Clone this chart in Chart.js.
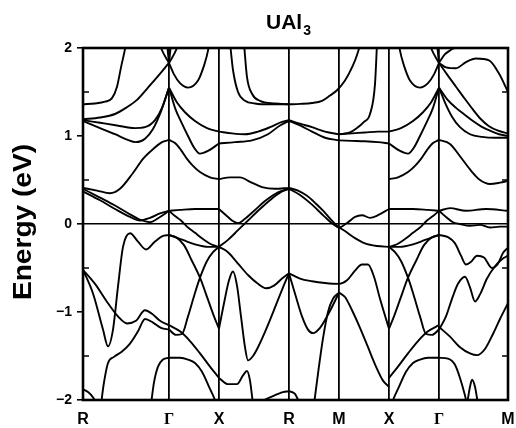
<!DOCTYPE html>
<html>
<head>
<meta charset="utf-8">
<title>UAl3 band structure</title>
<script src="https://cdn.jsdelivr.net/npm/chart.js@4.4.1/dist/chart.umd.min.js"></script>
<style>
  html, body { margin: 0; padding: 0; background: #fff; }
  canvas { display: block; }
</style>
</head>
<body>
<canvas id="bands" width="516" height="428"></canvas>
<script>
// symmetry points along the k-path (path length, arbitrary units)
const kLabels = ['R', 'Γ', 'X', 'R', 'M', 'X', 'Γ', 'M'];
const kNodes = [0, 86, 136, 206, 256, 306, 356, 425];
const eTicks = [-2, -1, 0, 1, 2];
const eMinor = [-1.5, -0.5, 0.5, 1.5];

// bands as [k, E(eV)] pairs
const bandsRG = [
  [[0,1.36],[12,1.37],[22,1.39],[29,1.43],[34,1.56],[38,1.78],[43,2.05],[46,2.3]],
  [[70,2.3],[78,2.0],[86,1.83]],
  [[82,2.3],[84,2.05],[86,1.83]],
  [[0,1.19],[17,1.21],[32,1.25],[43,1.32],[54,1.41],[65,1.55],[75,1.68],[86,1.83]],
  [[0,1.18],[17,1.15],[34,1.12],[52,1.09],[62,1.10],[72,1.18],[79,1.32],[86,1.55]],
  [[0,1.17],[17,1.09],[32,1.02],[44,0.96],[53,0.93],[62,0.97],[70,1.08],[78,1.28],[86,1.55]],
  [[0,0.41],[14,0.38],[27,0.35],[37,0.40],[50,0.58],[60,0.74],[70,0.85],[79,0.93],[86,0.955]],
  [[0,0.40],[17,0.30],[32,0.21],[47,0.11],[59,0.04],[67,0.02],[77,0.08],[86,0.15]],
  [[0,0.37],[17,0.27],[32,0.17],[47,0.08],[57,0.04],[67,0.07],[77,0.12],[86,0.15]],
  [[0,-0.52],[10,-0.79],[20,-1.20],[25,-1.39],[30,-1.20],[35,-0.71],[40,-0.26],[47,-0.105],[55,-0.20],[63,-0.29],[72,-0.20],[79,-0.14],[86,-0.125]],
  [[0,-0.52],[12,-0.68],[25,-0.90],[35,-1.05],[44,-1.13],[53,-1.10],[62,-0.98],[69,-1.02],[77,-1.10],[86,-1.15]],
  [[18,-2.05],[21,-1.80],[25,-1.58],[31,-1.51],[39,-1.45],[47,-1.36],[55,-1.22],[62,-1.08],[70,-1.12],[78,-1.18],[86,-1.20]],
  [[68,-2.05],[71,-1.80],[75,-1.62],[80,-1.54],[86,-1.52]],
  [[0,-1.88],[5,-1.91],[10,-1.97],[14,-2.05]]
];

const bandsGX = [
  [[86,1.83],[91,1.70],[97,1.60],[105,1.55],[115,1.63],[121,1.80],[125,1.97],[128,2.2]],
  [[86,1.83],[94,2.0],[102,2.3]],
  [[86,1.83],[88,2.05],[90,2.3]],
  [[86,1.55],[94,1.38],[102,1.27],[112,1.17],[124,1.09],[136,1.05]],
  [[86,1.55],[92,1.32],[99,1.14],[105,1.00],[111,0.87],[117,0.80],[125,0.83],[136,0.915]],
  [[86,0.955],[92,0.92],[98,0.84],[104,0.74],[110,0.66],[117,0.59],[127,0.53],[136,0.51]],
  [[86,0.15],[97,0.16],[112,0.17],[127,0.17],[136,0.17]],
  [[86,0.15],[92,0.09],[98,0.04],[104,-0.03],[112,-0.10],[120,-0.17],[128,-0.23],[136,-0.26]],
  [[86,-0.125],[95,-0.16],[104,-0.20],[115,-0.24],[125,-0.26],[136,-0.26]],
  [[86,-0.125],[93,-0.15],[101,-0.24],[109,-0.42],[117,-0.61],[125,-0.86],[131,-1.05],[136,-1.19]],
  [[86,-1.20],[93,-1.26],[99,-1.25],[105,-1.05],[111,-0.82],[117,-0.61],[124,-0.42],[130,-0.32],[136,-0.26]],
  [[86,-1.15],[97,-1.22],[107,-1.33],[117,-1.47],[127,-1.62],[136,-1.75]],
  [[86,-1.52],[97,-1.52],[105,-1.54],[112,-1.58],[119,-1.68],[126,-1.85],[132,-2.0],[135,-2.1]]
];

const bandsXR = [
  [[143,2.3],[147,2.05],[150,1.75],[155,1.50],[162,1.40],[172,1.37],[187,1.36],[206,1.36]],
  [[159,2.3],[161,2.05],[164,1.67],[169,1.48],[177,1.40],[192,1.37],[206,1.36]],
  [[136,1.05],[149,1.03],[162,1.02],[175,1.05],[187,1.10],[199,1.16],[206,1.18]],
  [[136,0.915],[152,0.93],[169,0.95],[185,1.02],[197,1.12],[206,1.17]],
  [[136,0.51],[147,0.53],[157,0.53],[167,0.48],[179,0.42],[192,0.40],[206,0.41]],
  [[136,0.17],[143,0.10],[149,0.04],[155,0.01],[161,0.05],[172,0.16],[183,0.27],[195,0.36],[206,0.40]],
  [[136,-0.26],[145,-0.18],[155,-0.07],[165,0.04],[177,0.17],[189,0.29],[199,0.37],[206,0.40]],
  [[136,-1.19],[141,-0.90],[146,-0.64],[150,-0.54],[154,-0.70],[158,-1.05],[162,-1.40],[165,-1.55],[170,-1.50],[175,-1.40],[183,-1.20],[193,-0.92],[200,-0.72],[206,-0.56]],
  [[136,-0.26],[145,-0.32],[155,-0.45],[165,-0.58],[175,-0.68],[183,-0.73],[191,-0.70],[199,-0.62],[206,-0.56]],
  [[136,-1.75],[145,-1.82],[154,-1.82],[160,-1.72],[164,-1.67],[167,-1.78],[170,-2.05]],
  [[172,-2.05],[187,-1.97],[200,-1.91],[206,-1.90]]
];

const bandsRMX = [
  [[206,1.36],[217,1.365],[229,1.375],[239,1.40],[247,1.46],[254,1.52],[262,1.63],[269,1.78],[274,1.92],[278,2.1],[280,2.3]],
  [[206,1.18],[217,1.14],[229,1.10],[242,1.05],[256,1.02]],
  [[206,1.17],[217,1.12],[229,1.05],[242,0.98],[256,0.95]],
  [[256,1.02],[267,1.04],[274,1.09],[281,1.16],[287,1.25],[292,1.59],[294,2.05],[295,2.3]],
  [[256,1.02],[269,1.03],[282,1.04],[295,1.05],[306,1.05]],
  [[256,0.95],[269,0.945],[282,0.94],[295,0.93],[306,0.915]],
  [[206,0.41],[215,0.38],[224,0.32],[233,0.23],[241,0.14],[248,0.05],[254,-0.02],[262,-0.08],[272,-0.16],[282,-0.22],[294,-0.25],[306,-0.26]],
  [[206,0.40],[217,0.33],[229,0.22],[241,0.09],[250,0.0],[256,-0.04],[265,0.02],[272,0.08],[279,0.10],[287,0.07],[295,0.10],[306,0.17]],
  [[206,-0.56],[213,-0.83],[219,-1.05],[225,-1.20],[230,-1.24],[237,-1.18],[244,-1.05],[250,-0.92],[256,-0.78]],
  [[206,-0.56],[217,-0.62],[229,-0.65],[242,-0.67],[256,-0.68],[264,-0.64],[272,-0.53],[279,-0.46],[285,-0.46],[291,-0.60],[297,-0.85],[306,-1.19]],
  [[231,-2.05],[235,-1.70],[240,-1.30],[245,-1.00],[250,-0.85],[256,-0.78]],
  [[256,-0.78],[262,-0.83],[269,-0.98],[277,-1.18],[285,-1.40],[293,-1.62],[300,-1.78],[306,-1.85]],
  [[206,-1.90],[212,-1.93],[217,-2.05]]
];

const bandsXG = [
  [[314,2.2],[317,1.97],[321,1.80],[327,1.63],[337,1.55],[345,1.60],[351,1.70],[356,1.83]],
  [[340,2.3],[348,2.0],[356,1.83]],
  [[352,2.3],[354,2.05],[356,1.83]],
  [[306,1.05],[318,1.09],[330,1.17],[340,1.27],[348,1.38],[356,1.55]],
  [[306,0.915],[317,0.83],[325,0.80],[331,0.87],[337,1.00],[343,1.14],[350,1.32],[356,1.55]],
  [[306,0.51],[315,0.53],[325,0.59],[332,0.66],[338,0.74],[344,0.84],[350,0.92],[356,0.955]],
  [[306,0.17],[315,0.17],[330,0.17],[345,0.16],[356,0.15]],
  [[306,-0.26],[314,-0.23],[322,-0.17],[330,-0.10],[338,-0.03],[344,0.04],[350,0.09],[356,0.15]],
  [[306,-0.26],[317,-0.26],[327,-0.24],[338,-0.20],[347,-0.16],[356,-0.125]],
  [[306,-1.19],[311,-1.05],[317,-0.86],[325,-0.61],[333,-0.42],[341,-0.24],[349,-0.15],[356,-0.125]],
  [[306,-0.26],[312,-0.32],[318,-0.42],[325,-0.61],[331,-0.82],[337,-1.05],[343,-1.25],[349,-1.26],[356,-1.20]],
  [[306,-1.75],[315,-1.62],[325,-1.47],[335,-1.33],[345,-1.22],[356,-1.15]],
  [[307,-2.1],[310,-2.0],[316,-1.85],[323,-1.68],[330,-1.58],[337,-1.54],[345,-1.52],[356,-1.52]]
];

const bandsGM = [
  [[356,1.83],[362,1.93],[368,1.98],[374,2.05],[378,2.3]],
  [[356,1.83],[363,1.78],[373,1.77],[383,1.84],[393,1.88],[406,1.86],[416,1.71],[425,1.50]],
  [[356,1.83],[364,1.70],[373,1.56],[382,1.42],[390,1.30],[398,1.19],[406,1.11],[415,1.06],[425,1.03]],
  [[356,1.55],[364,1.42],[373,1.32],[382,1.24],[390,1.17],[398,1.11],[407,1.06],[416,1.02],[425,1.00]],
  [[356,1.55],[362,1.38],[369,1.22],[377,1.10],[387,1.02],[399,0.99],[412,0.98],[425,0.98]],
  [[356,0.955],[367,0.91],[377,0.77],[387,0.62],[397,0.50],[407,0.455],[417,0.47],[425,0.49]],
  [[356,0.15],[367,0.18],[383,0.15],[403,0.17],[425,0.15]],
  [[356,0.15],[363,0.08],[370,0.02],[377,0.0],[387,-0.02],[397,-0.01],[407,-0.04],[417,-0.03],[425,-0.03]],
  [[356,-0.125],[365,-0.15],[372,-0.22],[378,-0.36],[383,-0.46],[388,-0.43],[394,-0.36],[401,-0.38],[409,-0.50],[415,-0.45],[420,-0.33],[425,-0.27]],
  [[356,-1.17],[367,-1.28],[377,-1.40],[387,-1.47],[394,-1.49],[402,-1.42],[410,-1.25],[417,-1.08],[425,-0.90]],
  [[356,-1.20],[363,-1.05],[369,-0.85],[375,-0.68],[382,-0.60],[387,-0.72],[392,-0.88],[397,-0.80],[404,-0.62],[412,-0.48],[419,-0.40],[425,-0.36]],
  [[356,-1.52],[365,-1.53],[372,-1.60],[377,-1.75],[382,-1.95],[384,-2.05]],
  [[384,-2.05],[387,-1.85],[389,-1.77],[392,-1.85],[395,-2.05]]
];

const allBands = [...bandsRG, ...bandsGX, ...bandsXR, ...bandsRMX, ...bandsXG, ...bandsGM];

const datasets = allBands.map(band => ({
  data: band.map(p => ({ x: p[0], y: p[1] })),
  showLine: true,
  borderColor: '#000',
  borderWidth: 1.9,
  pointRadius: 0,
  fill: false,
  cubicInterpolationMode: 'monotone'
}));

const sans = '"Liberation Sans", Arial, Helvetica, sans-serif';

// frame, inner minor ticks, title and axis title
const decor = {
  id: 'decor',
  afterDatasetsDraw(chart) {
    const ctx = chart.ctx;
    const a = chart.chartArea;
    const y = chart.scales.y;
    ctx.save();
    ctx.strokeStyle = '#000';
    ctx.lineWidth = 1.6;
    eMinor.forEach(v => {
      const py = y.getPixelForValue(v);
      ctx.beginPath();
      ctx.moveTo(a.left, py); ctx.lineTo(a.left + 6, py);
      ctx.moveTo(a.right, py); ctx.lineTo(a.right - 6, py);
      ctx.stroke();
    });
    ctx.lineWidth = 2.6;
    ctx.strokeRect(a.left, a.top, a.right - a.left, a.bottom - a.top);

    ctx.fillStyle = '#000';
    ctx.textAlign = 'left';
    ctx.textBaseline = 'alphabetic';
    ctx.font = 'bold 21px ' + sans;
    ctx.fillText('UAl', 266, 29);
    const w = ctx.measureText('UAl').width;
    ctx.font = 'bold 14px ' + sans;
    ctx.fillText('3', 266 + w + 1, 35);

    ctx.translate(31, 222);
    ctx.rotate(-Math.PI / 2);
    ctx.scale(1.08, 1);
    ctx.textAlign = 'center';
    ctx.font = 'bold 26px ' + sans;
    ctx.fillText('Energy (eV)', 0, 0);
    ctx.restore();
  }
};

new Chart(document.getElementById('bands'), {
  type: 'scatter',
  data: { datasets: datasets },
  options: {
    responsive: false,
    animation: false,
    events: [],
    layout: { padding: { top: 48, right: 8, left: 0, bottom: 0 } },
    plugins: {
      legend: { display: false },
      tooltip: { enabled: false },
      title: { display: false }
    },
    scales: {
      x: {
        type: 'linear',
        min: 0,
        max: 425,
        afterBuildTicks: s => { s.ticks = kNodes.map(v => ({ value: v })); },
        afterFit: s => { s.height = 28; s.paddingLeft = 0; s.paddingRight = 0; },
        ticks: {
          autoSkip: false,
          maxRotation: 0,
          padding: 10,
          color: '#000',
          callback: (v, i) => kLabels[i],
          font: c => ({
            family: kLabels[c.index] === 'Γ' ? '"Liberation Serif", "Times New Roman", serif' : sans,
            weight: 'bold',
            size: 16
          })
        },
        grid: { color: '#000', lineWidth: 1.8, drawTicks: false },
        border: { display: false }
      },
      y: {
        min: -2,
        max: 2,
        afterBuildTicks: s => { s.ticks = eTicks.map(v => ({ value: v })); },
        afterFit: s => { s.width = 83; },
        ticks: {
          color: '#000',
          padding: 5,
          font: { family: sans, weight: 'bold', size: 14 },
          callback: v => (v < 0 ? '\u2212' + Math.abs(v) : String(v))
        },
        grid: {
          color: c => (c.tick && c.tick.value === 0 ? '#000' : 'rgba(0,0,0,0)'),
          lineWidth: 1.6,
          tickColor: '#000',
          tickLength: 6,
          tickWidth: 1.6
        },
        border: { display: false }
      }
    }
  },
  plugins: [decor]
});
</script>
</body>
</html>
